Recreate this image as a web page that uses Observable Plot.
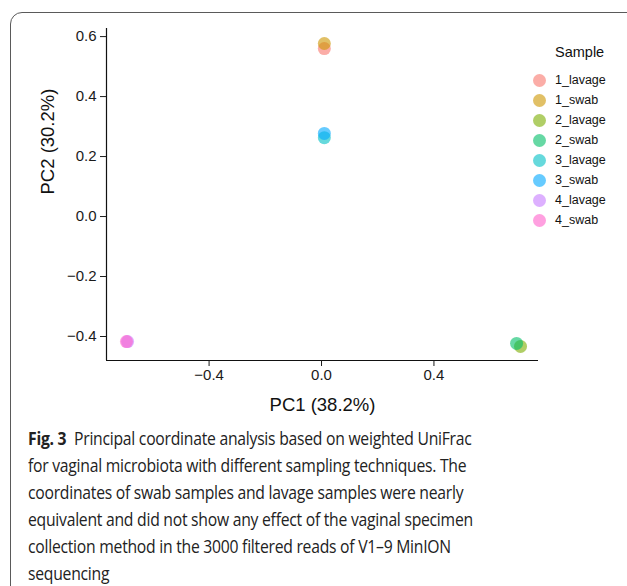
<!DOCTYPE html>
<html>
<head>
<meta charset="utf-8">
<script src="https://cdn.jsdelivr.net/npm/d3@7"></script>
<script src="https://cdn.jsdelivr.net/npm/@observablehq/plot@0.6"></script>
<style>
  html, body { margin: 0; padding: 0; background: #fff; }
  #wrap { position: relative; width: 627px; height: 586px; overflow: hidden; }
  #frame { position: absolute; left: 10px; top: 12px; width: 660px; height: 640px;
           border: 1.3px solid #5a5a5a; border-radius: 12px; box-sizing: border-box; }
  #chart { position: absolute; left: 0; top: 0; }
  #legend { position: absolute; left: 533px; top: 44px; font-family: "Liberation Sans", Arial, sans-serif; color: #111; }
  #legend .title { font-size: 14.5px; margin-left: 22px; height: 26px; }
  #legend .item { display: flex; align-items: center; height: 20px; font-size: 12.5px; }
  #legend .dot { width: 13px; height: 13px; border-radius: 50%; margin-right: 9px; }
  #caption { position: absolute; left: 28px; top: 424px; width: 700px; font-family: "Open Sans", sans-serif;
             font-size: 18.5px; line-height: 27px; color: #222; white-space: pre; letter-spacing: -0.3px;
             transform: scaleX(0.85); transform-origin: 0 0; }
  #caption b { font-weight: 700; margin-right: 9px; }
</style>
</head>
<body>
<div id="wrap">
  <div id="frame"></div>
  <div id="chart"></div>
  <div id="legend"></div>
  <div id="caption"></div>
</div>
<script>
const samples = ["1_lavage","1_swab","2_lavage","2_swab","3_lavage","3_swab","4_lavage","4_swab"];
const pc1 = [0.010, 0.010, 0.708, 0.694, 0.010, 0.010, -0.690, -0.694];
const pc2 = [0.560, 0.577, -0.433, -0.423, 0.263, 0.277, -0.417, -0.417];
const colors = ["#F8766D","#CD9600","#7CAE00","#00BE67","#00BFC4","#00A9FF","#C77CFF","#FF61CC"];
const xTicks = [-0.4, 0.0, 0.4];
const yTicks = [-0.4, -0.2, 0.0, 0.2, 0.4, 0.6];
const xDomain = [-0.765, 0.772];
const yDomain = [-0.48, 0.627];
const xLabel = "PC1 (38.2%)";
const yLabel = "PC2 (30.2%)";
const legendTitle = "Sample";
const captionBold = "Fig. 3";
const captionLines = [
  "Principal coordinate analysis based on weighted UniFrac",
  "for vaginal microbiota with different sampling techniques. The",
  "coordinates of swab samples and lavage samples were nearly",
  "equivalent and did not show any effect of the vaginal specimen",
  "collection method in the 3000 filtered reads of V1\u20139 MinION",
  "sequencing"
];

const data = samples.map((s, i) => ({sample: s, x: pc1[i], y: pc2[i]}));
const fmt = d => (d < 0 ? "\u2212" : "") + Math.abs(d).toFixed(1);

const plot = Plot.plot({
  width: 627,
  height: 420,
  marginLeft: 106,
  marginRight: 89,
  marginTop: 28,
  marginBottom: 60,
  style: { fontFamily: "'Liberation Sans', Arial, sans-serif", fontSize: "15px", color: "#1a1a1a", background: "transparent" },
  x: { domain: xDomain, ticks: xTicks, tickFormat: fmt, label: null },
  y: { domain: yDomain, ticks: yTicks, tickFormat: fmt, label: null },
  color: { domain: samples, range: colors },
  marks: [
    Plot.ruleX([xDomain[0]], {stroke: "#111", strokeWidth: 1.2}),
    Plot.ruleY([yDomain[0]], {stroke: "#111", strokeWidth: 1.2}),
    Plot.axisX({ticks: xTicks, tickFormat: fmt, tickSize: 6, tickPadding: 3, fontSize: 15, label: null}),
    Plot.axisY({ticks: yTicks, tickFormat: fmt, tickSize: 6, tickPadding: 4, fontSize: 15, label: null}),
    Plot.dot(data, {x: "x", y: "y", fill: "sample", r: 6.5, fillOpacity: 0.6, stroke: null}),
    Plot.text([xLabel], {frameAnchor: "bottom", lineAnchor: "middle", dy: 45, fontSize: 18.5, fill: "#111"}),
    Plot.text([yLabel], {frameAnchor: "left", lineAnchor: "middle", dx: -58, rotate: -90, fontSize: 18.5, fill: "#111"})
  ]
});
document.getElementById("chart").appendChild(plot);

const legend = document.getElementById("legend");
const t = document.createElement("div");
t.className = "title"; t.textContent = legendTitle;
legend.appendChild(t);
samples.forEach((s, i) => {
  const it = document.createElement("div"); it.className = "item";
  const d = document.createElement("span"); d.className = "dot";
  d.style.background = colors[i]; d.style.opacity = 0.6;
  const l = document.createElement("span"); l.textContent = s;
  it.appendChild(d); it.appendChild(l); legend.appendChild(it);
});

const cap = document.getElementById("caption");
captionLines.forEach((line, i) => {
  const row = document.createElement("div");
  if (i === 0) {
    const b = document.createElement("b"); b.textContent = captionBold;
    row.appendChild(b);
  }
  const s = document.createElement("span"); s.textContent = line;
  row.appendChild(s);
  cap.appendChild(row);
});
</script>
</body>
</html>
